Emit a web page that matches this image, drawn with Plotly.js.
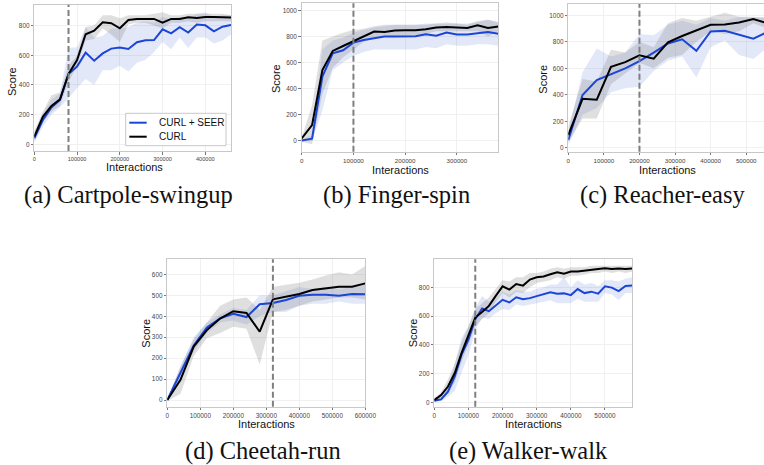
<!DOCTYPE html>
<html>
<head>
<meta charset="utf-8">
<script src="https://cdn.plot.ly/plotly-3.0.1.min.js"></script>
<style>html,body{margin:0;padding:0;background:#fff;}#chart{width:764px;height:465px;}</style>
</head>
<body>
<div id="chart"></div>
<script>
// ---------- data ----------
const seriesNames = ["CURL + SEER", "CURL"];
const captions = ["(a) Cartpole-swingup", "(b) Finger-spin", "(c) Reacher-easy", "(d) Cheetah-run", "(e) Walker-walk"];
const switchPoints = [80000, 100000, 200000, 320000, 120000];

const xA = [0,20000,40000,60000,80000,100000,120000,140000,160000,180000,200000,220000,240000,260000,280000,300000,320000,340000,360000,380000,400000,420000,440000,460000];
const curlA = [52,186,258,303,474,568,742,766,822,816,782,838,845,845,845,820,845,845,856,852,858,858,856,854];
const curlA_lo = [20,150,220,260,420,530,700,710,780,740,690,810,820,820,800,780,820,820,830,820,830,830,830,830];
const curlA_hi = [90,220,330,350,530,600,790,800,870,870,850,870,870,870,880,890,870,870,880,880,880,880,880,870];
const seerA = [40,164,249,299,474,524,618,564,613,645,652,643,688,701,703,775,748,789,753,807,802,762,793,804];
const seerA_lo = [10,120,200,250,310,380,440,400,500,500,530,490,550,570,620,690,640,720,650,720,720,680,700,740];
const seerA_hi = [80,210,300,340,650,655,790,720,730,780,780,790,820,830,820,860,840,860,850,880,890,860,870,870];

const xB = [0,20000,40000,60000,80000,100000,120000,140000,160000,180000,200000,220000,240000,260000,280000,300000,320000,340000,360000,380000];
const curlB = [15,118,542,689,727,766,800,838,835,846,848,848,856,869,874,871,866,887,866,877];
const curlB_lo = [-10,-30,360,560,640,700,760,790,800,800,800,810,820,840,840,840,840,840,800,840];
const curlB_hi = [20,270,770,800,830,850,860,880,890,890,890,890,890,900,900,900,890,920,930,910];
const seerB = [0,13,491,671,694,753,774,789,800,800,800,802,817,807,830,815,815,825,835,822];
const seerB_lo = [-5,-5,230,540,600,650,680,700,700,700,700,700,720,710,740,730,730,740,740,730];
const seerB_hi = [5,40,700,770,790,830,850,870,880,890,890,890,900,900,910,900,900,910,930,910];

const xC = [0,40000,80000,120000,160000,200000,240000,280000,320000,360000,400000,440000,480000,520000,560000];
const curlC = [96,370,363,612,647,698,673,796,844,889,929,932,947,972,940];
const curlC_lo = [40,220,220,480,560,640,600,680,700,800,880,860,880,940,900];
const curlC_hi = [160,520,500,740,720,800,760,940,980,960,990,1020,990,990,980];
const seerC = [58,398,511,557,600,655,718,788,819,733,879,884,856,824,874];
const seerC_lo = [20,250,300,420,450,460,580,660,690,530,760,810,700,670,760];
const seerC_hi = [120,570,750,690,720,860,850,930,960,930,980,960,990,980,990];

const xD = [0,40000,80000,120000,160000,200000,240000,280000,320000,360000,400000,440000,480000,520000,560000,600000];
const curlD = [0,96,255,334,389,424,416,326,481,492,506,525,532,541,541,557];
const curlD_lo = [-5,30,210,295,320,350,340,170,420,430,450,470,480,490,490,480];
const curlD_hi = [5,160,290,370,450,480,490,430,540,550,560,575,595,610,600,640];
const seerD = [0,127,260,346,390,412,396,457,463,478,498,503,503,498,506,505];
const seerD_lo = [-5,100,230,320,370,380,360,400,420,420,450,460,460,470,460,460];
const seerD_hi = [5,160,300,370,410,440,430,500,500,520,540,530,540,530,540,550];

const xE = [0,20000,40000,60000,80000,100000,120000,140000,160000,180000,200000,220000,240000,260000,280000,300000,320000,340000,360000,380000,400000,420000,440000,460000,480000,500000,520000,540000,560000,580000];
const curlE = [16,51,110,204,344,461,590,629,671,741,807,784,823,812,854,870,875,891,905,894,910,910,917,926,928,933,928,931,928,931];
const curlE_lo = [5,20,60,140,280,400,530,580,620,700,760,730,770,760,800,830,840,850,870,860,880,880,890,900,900,910,900,910,900,910];
const curlE_hi = [30,70,160,270,420,530,650,690,730,790,850,840,870,870,900,900,910,930,940,930,940,940,940,950,950,950,950,950,950,950];
const seerE = [12,21,75,180,332,437,578,653,634,671,713,695,731,718,725,739,751,765,756,758,746,788,760,770,756,807,798,774,809,812];
const seerE_lo = [5,10,40,80,210,330,500,590,580,620,650,640,680,670,680,690,700,710,690,690,690,720,700,700,700,760,750,710,760,760];
const seerE_hi = [20,40,110,270,450,530,660,740,700,720,770,750,780,770,770,790,800,820,820,870,800,850,820,830,810,850,850,840,860,870];

// ---------- styling / layout ----------
const W = 764, H = 465;
const BLUE = '#1a45d6', BLACK = '#000000';
const SERIES_COLORS = [BLUE, BLACK];
const BLUE_FILL = 'rgba(90,120,220,0.17)', GRAY_FILL = 'rgba(110,110,110,0.22)';
const FONT = '"Liberation Sans", Arial, sans-serif';

// pixel boxes [left, right, top, bottom]
const boxes = [
  [34.3, 231, 4.7, 151],
  [301.7, 498.3, 3.3, 151.7],
  [568.3, 764, 4, 151.7],
  [167.3, 365.3, 259.3, 406.7],
  [434.3, 632.3, 259.3, 406.7]
];
const xRanges = [[0,460000],[0,380000],[0,550000],[0,600000],[0,580000]];
const yRanges = [[-45,941],[-87,1056],[-30,1086],[-32,672],[-30,995]];
const xTicks = [[0,100000,200000,300000,400000],[0,100000,200000,300000],[0,100000,200000,300000,400000,500000],[0,100000,200000,300000,400000,500000,600000],[0,100000,200000,300000,400000,500000]];
const yTicks = [[0,200,400,600,800],[0,200,400,600,800,1000],[0,200,400,600,800,1000],[0,100,200,300,400,500,600],[0,200,400,600,800]];
const xTickSize = [5.6,6.2,6.2,6.4,6.4];
const scoreLabelPos = [[12,82],[276,79],[542.7,79],[145.7,333],[413.3,333]];
const interLabelPos = [[134,166.5],[400,169.5],[667,169.5],[266.7,423.9],[533,423.9]];
const captionPos = [[128,195],[396,195],[663,195],[263,451],[528,451]];

const panels = [
  {x:xA, c:curlA, cl:curlA_lo, ch:curlA_hi, s:seerA, sl:seerA_lo, sh:seerA_hi},
  {x:xB, c:curlB, cl:curlB_lo, ch:curlB_hi, s:seerB, sl:seerB_lo, sh:seerB_hi},
  {x:xC, c:curlC, cl:curlC_lo, ch:curlC_hi, s:seerC, sl:seerC_lo, sh:seerC_hi},
  {x:xD, c:curlD, cl:curlD_lo, ch:curlD_hi, s:seerD, sl:seerD_lo, sh:seerD_hi},
  {x:xE, c:curlE, cl:curlE_lo, ch:curlE_hi, s:seerE, sl:seerE_lo, sh:seerE_hi}
];

const traces = [];
const layout = {
  width: W, height: H,
  margin: {l:0, r:0, t:0, b:0},
  paper_bgcolor: '#ffffff', plot_bgcolor: '#ffffff',
  font: {family: FONT, color: '#333'},
  showlegend: false,
  shapes: [], annotations: []
};

function band(x, lo, hi) {
  return {xs: x.concat(x.slice().reverse()), ys: hi.concat(lo.slice().reverse())};
}

panels.forEach((p, i) => {
  const n = i === 0 ? '' : String(i + 1);
  const xa = 'x' + n, ya = 'y' + n;
  const b = boxes[i];
  const bs = band(p.x, p.sl, p.sh);
  const bc = band(p.x, p.cl, p.ch);
  traces.push({x: bs.xs, y: bs.ys, xaxis: xa, yaxis: ya, type: 'scatter', mode: 'none', fill: 'toself', fillcolor: BLUE_FILL, hoverinfo: 'skip'});
  traces.push({x: bc.xs, y: bc.ys, xaxis: xa, yaxis: ya, type: 'scatter', mode: 'none', fill: 'toself', fillcolor: GRAY_FILL, hoverinfo: 'skip'});
  traces.push({x: p.x, y: p.s, xaxis: xa, yaxis: ya, type: 'scatter', mode: 'lines', name: seriesNames[0], line: {color: BLUE, width: 2}});
  traces.push({x: p.x, y: p.c, xaxis: xa, yaxis: ya, type: 'scatter', mode: 'lines', name: seriesNames[1], line: {color: BLACK, width: 2}});

  const common = {
    showline: true, mirror: true, linecolor: '#c8c8c8', linewidth: 1,
    showgrid: true, gridcolor: '#f0f0f0', gridwidth: 1, zeroline: false,
    ticks: 'outside', ticklen: 2.5, tickcolor: '#777', tickwidth: 1,
    tickmode: 'array', tickformat: 'd', fixedrange: true
  };
  layout['xaxis' + n] = Object.assign({}, common, {
    domain: [b[0]/W, b[1]/W], anchor: ya, range: xRanges[i], tickvals: xTicks[i],
    tickfont: {size: xTickSize[i], family: FONT, color: '#444'}
  });
  layout['yaxis' + n] = Object.assign({}, common, {
    domain: [1 - b[3]/H, 1 - b[2]/H], anchor: xa, range: yRanges[i], tickvals: yTicks[i],
    tickfont: {size: 6.4, family: FONT, color: '#444'}
  });
  layout.shapes.push({
    type: 'line', xref: xa, yref: ya + ' domain', x0: switchPoints[i], x1: switchPoints[i], y0: 0, y1: 1,
    line: {color: '#7f7f7f', width: 2, dash: '6px,3px'}, layer: 'above'
  });
  layout.annotations.push({
    text: 'Score', xref: 'paper', yref: 'paper', x: scoreLabelPos[i][0]/W, y: 1 - scoreLabelPos[i][1]/H,
    xanchor: 'center', yanchor: 'middle', textangle: -90, showarrow: false,
    font: {size: 11, family: FONT, color: '#111'}
  });
  layout.annotations.push({
    text: 'Interactions', xref: 'paper', yref: 'paper', x: interLabelPos[i][0]/W, y: 1 - interLabelPos[i][1]/H,
    xanchor: 'center', yanchor: 'middle', showarrow: false,
    font: {size: 11, family: FONT, color: '#111'}
  });
  layout.annotations.push({
    text: captions[i], xref: 'paper', yref: 'paper', x: captionPos[i][0]/W, y: 1 - captionPos[i][1]/H,
    xanchor: 'center', yanchor: 'middle', showarrow: false,
    font: {size: 24.5, family: '"Liberation Serif", "Times New Roman", serif', color: '#111'}
  });
});

// ---------- legend (drawn inside panel a) ----------
const legBox = [125.7, 226, 113.3, 145.7];
const legRows = [122.7, 136.7];
layout.shapes.push({
  type: 'rect', xref: 'paper', yref: 'paper',
  x0: legBox[0]/W, x1: legBox[1]/W, y0: 1 - legBox[3]/H, y1: 1 - legBox[2]/H,
  line: {color: '#c8c8c8', width: 1}, fillcolor: '#ffffff', layer: 'above'
});
seriesNames.forEach((nm, k) => {
  layout.shapes.push({
    type: 'line', xref: 'paper', yref: 'paper',
    x0: 129.3/W, x1: 146.7/W, y0: 1 - legRows[k]/H, y1: 1 - legRows[k]/H,
    line: {color: SERIES_COLORS[k], width: 2}, layer: 'above'
  });
  layout.annotations.push({
    text: nm, xref: 'paper', yref: 'paper', x: 157.2/W, y: 1 - legRows[k]/H,
    xanchor: 'left', yanchor: 'middle', showarrow: false,
    font: {size: 10, family: FONT, color: '#111'}
  });
});

Plotly.newPlot('chart', traces, layout, {displayModeBar: false, staticPlot: true});
</script>
</body>
</html>
